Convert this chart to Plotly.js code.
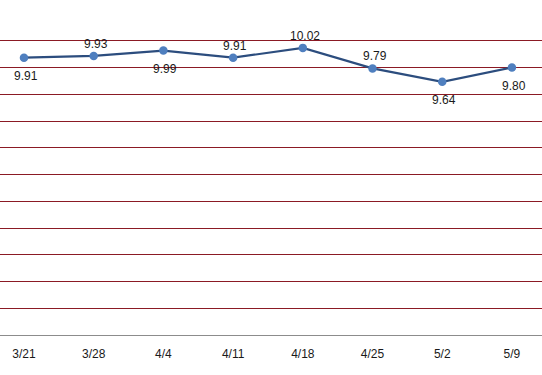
<!DOCTYPE html>
<html>
<head>
<meta charset="utf-8">
<script src="https://cdn.plot.ly/plotly-3.0.1.min.js"></script>
<style>html,body{margin:0;padding:0;background:#fff;}#chart{width:542px;height:375px;}</style>
</head>
<body>
<div id="chart"></div>
<script>
const categories = ["3/21","3/28","4/4","4/11","4/18","4/25","5/2","5/9"];
const values = [9.91, 9.93, 9.99, 9.91, 10.02, 9.79, 9.64, 9.80];
const labelSides = ["below","above","below","above","above","above","below","below"];

const xIdx = categories.map((c, i) => i);

const trace = {
  x: xIdx,
  y: values,
  type: "scatter",
  mode: "lines+markers",
  line: {color: "#2c4d7e", width: 2.2},
  marker: {color: "#4f7fbf", size: 8.5},
  cliponaxis: false,
  hoverinfo: "none"
};

const annotations = values.map((v, i) => ({
  x: xIdx[i],
  y: v,
  xref: "x",
  yref: "y",
  text: v.toFixed(2),
  showarrow: false,
  xshift: 2,
  yshift: labelSides[i] === "above" ? 12 : -18,
  font: {family: "Liberation Sans, Arial, sans-serif", size: 12, color: "#1a1a1a"}
}));

const layout = {
  width: 542,
  height: 375,
  margin: {l: 0, r: 0, t: 14, b: 40},
  paper_bgcolor: "#fff",
  plot_bgcolor: "#fff",
  showlegend: false,
  annotations: annotations,
  xaxis: {
    range: [-0.344, 7.431],
    tickmode: "array",
    tickvals: xIdx,
    ticktext: categories,
    showgrid: false,
    zeroline: false,
    showline: true,
    linecolor: "#8c8c8c",
    linewidth: 1,
    ticks: "outside",
    ticklen: 8,
    tickcolor: "rgba(0,0,0,0)",
    tickfont: {family: "Liberation Sans, Arial, sans-serif", size: 12, color: "#1a1a1a"}
  },
  yaxis: {
    range: [6.8, 10.4],
    tick0: 6.8,
    dtick: 0.3,
    showticklabels: false,
    showgrid: true,
    gridcolor: "#8b1a24",
    gridwidth: 1,
    zeroline: false,
    showline: false,
    ticks: ""
  }
};

Plotly.newPlot("chart", [trace], layout, {staticPlot: true, displayModeBar: false});
</script>
</body>
</html>
